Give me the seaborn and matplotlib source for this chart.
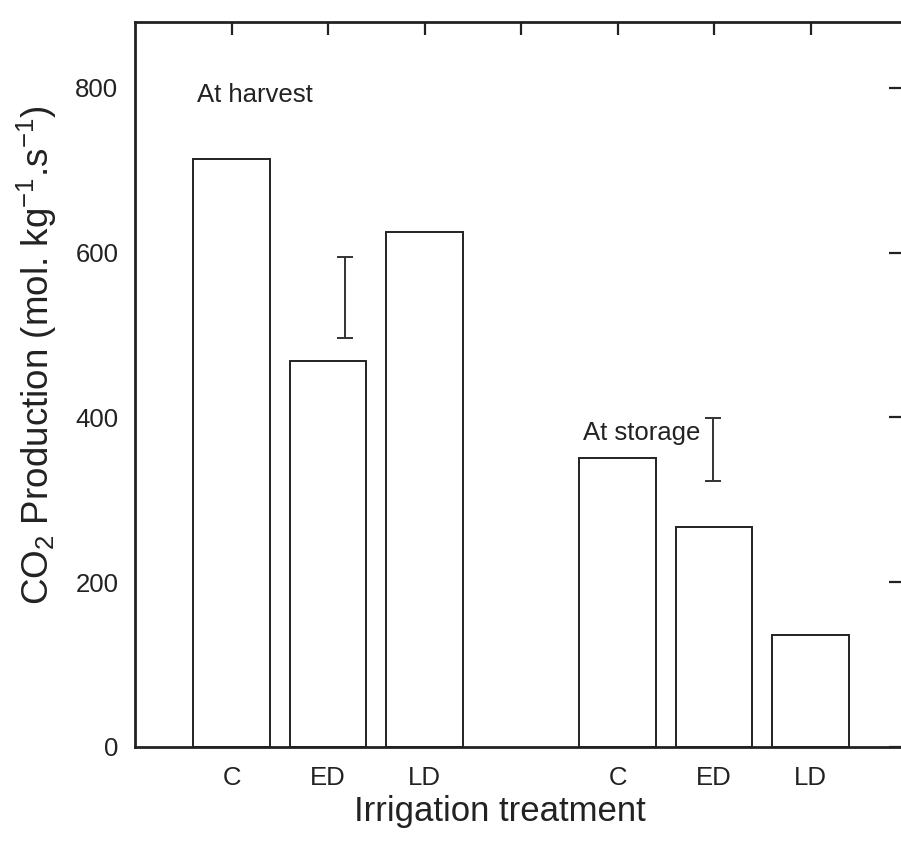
import matplotlib
matplotlib.use("Agg")
import matplotlib.pyplot as plt
import seaborn as sns
import pandas as pd

# ---- data ----
groups = ["At harvest", "At storage"]
treatments = ["C", "ED", "LD"]
harvest_values = [714, 468, 625]
storage_values = [351, 267, 136]
lsd_centers = [546, 361]
lsd_halfwidths = [49, 38]
tick_labels = ["C", "ED", "LD", "", "C", "ED", "LD"]
y_ticks = [0, 200, 400, 600, 800]

sns.set_theme(style="white")
plt.rcParams["font.family"] = ["Liberation Sans", "DejaVu Sans"]
plt.rcParams["mathtext.fontset"] = "custom"
plt.rcParams["mathtext.rm"] = "Liberation Sans"
plt.rcParams["mathtext.it"] = "Liberation Sans"
plt.rcParams["mathtext.default"] = "regular"

slots, values = [], []
for g, vals in zip(groups, [harvest_values, storage_values]):
    for t, v in zip(treatments, vals):
        slots.append(f"{g}|{t}")
        values.append(v)
df = pd.DataFrame({"slot": slots, "value": values})
order = [f"{groups[0]}|{t}" for t in treatments] + ["gap"] + [f"{groups[1]}|{t}" for t in treatments]

fig = plt.figure(figsize=(9.01, 8.5), dpi=100)
ax = fig.add_axes([135 / 901, 103 / 850, 772 / 901, 725 / 850])

sns.barplot(data=df, x="slot", y="value", order=order, ax=ax, width=0.79,
            color="white", edgecolor="#222222", linewidth=1.4, errorbar=None,
            saturation=1)

# LSD bars
lsd_x = [order.index(f"{groups[0]}|ED") + 0.18, order.index(f"{groups[1]}|ED") - 0.01]
ax.errorbar(lsd_x, lsd_centers, yerr=lsd_halfwidths, fmt="none", ecolor="#333333",
            elinewidth=1.4, capsize=5.5, capthick=1.4)

ax.set_xlim(-1, 7)
ax.set_ylim(0, 880)
ax.set_xticks(range(7))
ax.set_xticklabels(tick_labels)
ax.set_yticks(y_ticks)

ax.tick_params(axis="both", direction="in", labelsize=18.5, colors="#222222",
               width=1.6, top=True, right=True, labeltop=False, labelright=False)
ax.tick_params(axis="x", length=9, pad=14)
ax.tick_params(axis="y", length=13, pad=12)
for lbl in ax.get_xticklabels() + ax.get_yticklabels():
    lbl.set_color("#222222")
for s in ax.spines.values():
    s.set_visible(True)
    s.set_linewidth(2.0)
    s.set_color("#222222")

ax.set_xlabel("Irrigation treatment", fontsize=25, color="#222222", labelpad=8)
ax.xaxis.set_label_coords(0.473, -0.066)
ax.set_ylabel(r"CO$_2$ Production (mol. kg$^{-1}$.s$^{-1}$)", fontsize=26.5,
              color="#222222", labelpad=12)
ax.yaxis.set_label_coords(-0.098, 0.54)

ax.text(-0.36, 792, groups[0], fontsize=18.5, va="center", ha="left", color="#222222")
ax.text(3.64, 381, groups[1], fontsize=18.5, va="center", ha="left", color="#222222")

fig.savefig("out.png", dpi=100)
